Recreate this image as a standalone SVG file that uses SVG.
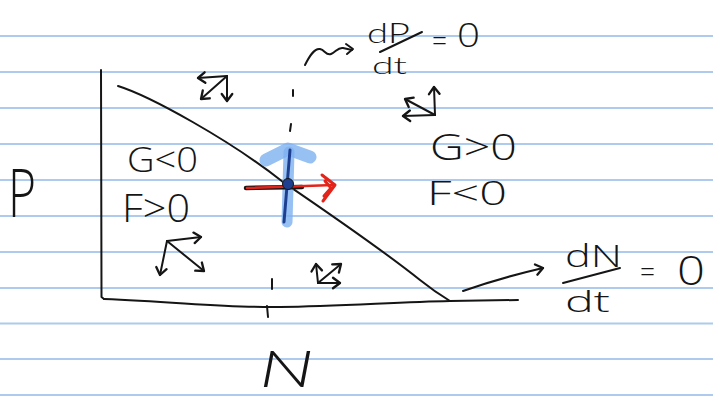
<svg xmlns="http://www.w3.org/2000/svg" width="713" height="397" viewBox="0 0 713 397">
<defs>
<style>
.rule{stroke:#aecbee;stroke-width:2;fill:none}
.ink{stroke:#151515;stroke-width:2;fill:none;stroke-linecap:round;stroke-linejoin:round}
.t{font-family:"Open Sans","DejaVu Sans",sans-serif;font-weight:300;fill:#151515}
.ts{font-family:"Lato","Open Sans",sans-serif;font-weight:300;fill:#151515}
</style>
<marker id="h" markerUnits="userSpaceOnUse" markerWidth="14" markerHeight="14" viewBox="-8 -6 10 12" refX="0" refY="0" orient="auto">
<path d="M-6,-4.5 L0,0 L-6,4.5" fill="none" stroke="#151515" stroke-width="2" stroke-linecap="round" stroke-linejoin="round"/>
</marker>
</defs>
<rect width="713" height="397" fill="#ffffff"/>
<g id="paper">
<line class="rule" x1="0" y1="36" x2="713" y2="36"/>
<line class="rule" x1="0" y1="72" x2="713" y2="72"/>
<line class="rule" x1="0" y1="108" x2="713" y2="108"/>
<line class="rule" x1="0" y1="144" x2="713" y2="144"/>
<line class="rule" x1="0" y1="180" x2="713" y2="180"/>
<line class="rule" x1="0" y1="216" x2="713" y2="216"/>
<line class="rule" x1="0" y1="252" x2="713" y2="252"/>
<line class="rule" x1="0" y1="288" x2="713" y2="288"/>
<line class="rule" x1="0" y1="323.5" x2="713" y2="323.5"/>
<line class="rule" x1="0" y1="359" x2="713" y2="359"/>
<line class="rule" x1="0" y1="395" x2="713" y2="395"/>
</g>
<g id="axes">
<path class="ink" d="M101 70 L101.5 297 L104 299"/>
<path class="ink" d="M104 299 C180 302 230 308 280 307 C340 306 400 302 450 301 L518 300"/>
<path class="ink" d="M272 279 L272 289"/>
<path class="ink" d="M267 306 L268 317"/>
<text class="t" x="8" y="217" font-size="66" textLength="28" lengthAdjust="spacingAndGlyphs">P</text>
<text class="ts" x="259" y="387" font-size="52" font-style="italic" textLength="55" lengthAdjust="spacingAndGlyphs">N</text>
</g>
<g id="nullcline-N">
<path class="ink" d="M118 86 C150 96 230 140 283 182 C330 214 380 248 420 280 C435 292 445 298 450 301"/>
</g>
<g id="nullcline-P">
<path class="ink" d="M293 90 L293 96"/>
<path class="ink" d="M291 124 L290 131"/>
</g>
<g id="label-dPdt">
<path class="ink" d="M305 65 C309 57 314 48 320 49 C325 50 326 56 331 54 C336 52 338 47 343 48 L352 50"/>
<path class="ink" d="M346 44 L353 49 L347 54"/>
<text class="ts" x="367" y="43" font-size="28" textLength="43" lengthAdjust="spacingAndGlyphs">dP</text>
<path class="ink" d="M380 52 L422 32"/>
<text class="ts" x="372" y="74" font-size="24" textLength="35" lengthAdjust="spacingAndGlyphs">dt</text>
<text class="t" x="432" y="51" font-size="28" textLength="15" lengthAdjust="spacingAndGlyphs">=</text>
<text class="t" x="457" y="47" font-size="33" textLength="23" lengthAdjust="spacingAndGlyphs">0</text>
</g>
<g id="label-dNdt">
<text class="t" x="565" y="267" font-size="31" textLength="57" lengthAdjust="spacingAndGlyphs">dN</text>
<path class="ink" d="M563 283 L620 268"/>
<text class="t" x="565" y="312" font-size="30" textLength="45" lengthAdjust="spacingAndGlyphs">dt</text>
<text class="t" x="640" y="282" font-size="30" textLength="15" lengthAdjust="spacingAndGlyphs">=</text>
<text class="t" x="677" y="285" font-size="41" textLength="28" lengthAdjust="spacingAndGlyphs">0</text>
</g>
<g id="region-left">
<text class="t" x="127" y="172" font-size="34" textLength="71" lengthAdjust="spacingAndGlyphs">G&lt;0</text>
<text class="t" x="122" y="222" font-size="38" textLength="68" lengthAdjust="spacingAndGlyphs">F&gt;0</text>
</g>
<g id="region-right">
<text class="t" x="430" y="160" font-size="37" textLength="87" lengthAdjust="spacingAndGlyphs">G&gt;0</text>
<text class="t" x="427" y="205" font-size="33" textLength="80" lengthAdjust="spacingAndGlyphs">F&lt;0</text>
</g>
<g id="connectors">
<path class="ink" d="M463 291 Q500 278 543 268" marker-end="url(#h)"/>
<g id="flow-top-left">
<path class="ink" d="M227 76 L198 78" marker-end="url(#h)"/>
<path class="ink" d="M227 76 L201 99" marker-end="url(#h)"/>
<path class="ink" d="M227 76 L227 101" marker-end="url(#h)"/>
</g>
<g id="flow-top-right">
<path class="ink" d="M435 115 L434 87" marker-end="url(#h)"/>
<path class="ink" d="M435 115 L405 99" marker-end="url(#h)"/>
<path class="ink" d="M435 115 L403 116" marker-end="url(#h)"/>
</g>
<g id="flow-bottom-left">
<path class="ink" d="M167 241 L201 237" marker-end="url(#h)"/>
<path class="ink" d="M167 241 L204 271" marker-end="url(#h)"/>
<path class="ink" d="M167 241 L160 275" marker-end="url(#h)"/>
</g>
<g id="flow-bottom-right">
<path class="ink" d="M318 283 L316 264" marker-end="url(#h)"/>
<path class="ink" d="M318 283 L341 264" marker-end="url(#h)"/>
<path class="ink" d="M318 283 L340 283" marker-end="url(#h)"/>
</g>
</g>
<g id="equilibrium">
<path d="M287 222 L289 152" stroke="#7db0f0" stroke-opacity="0.8" stroke-width="11" stroke-linecap="round" fill="none"/>
<path d="M266 160 L288 149 L310 157" stroke="#7db0f0" stroke-opacity="0.8" stroke-width="13" stroke-linecap="round" stroke-linejoin="round" fill="none"/>
<path d="M246 188 L302 187" stroke="#151515" stroke-width="4.5" stroke-linecap="round" fill="none"/>
<path d="M247 188 L334 185" stroke="#e3241b" stroke-width="2.5" stroke-linecap="round" fill="none"/>
<path d="M322 175 L335 185 L323 201 M325 181 L331 188 L324 196" stroke="#e3241b" stroke-width="3" stroke-linecap="round" stroke-linejoin="round" fill="none"/>
<path d="M290 150 L284 222" stroke="#1e3f8f" stroke-width="3" stroke-linecap="round" fill="none"/>
<circle cx="288" cy="184" r="5.5" fill="#1e3f8f" stroke="#151515" stroke-width="1"/>
</g>
</svg>
